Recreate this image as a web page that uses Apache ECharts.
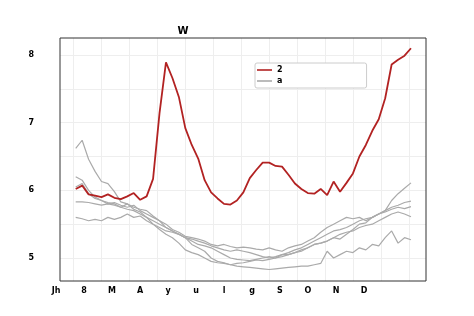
<!DOCTYPE html>
<html><head><meta charset="utf-8">
<script src="https://cdn.jsdelivr.net/npm/echarts@6/dist/echarts.min.js"></script>
<style>html,body{margin:0;padding:0;background:#fff}#c{width:474px;height:316px}</style>
</head><body><div id="c"></div>
<script>
const chartTitle = 'W';
const monthLabels = ['Jh','8','M','A','y','u','l','g','S','O','N','D'];
const yTickValues = [5, 6, 7, 8];
const redName = '2';
const grayName = 'a';
const weeks = [0,1,2,3,4,5,6,7,8,9,10,11,12,13,14,15,16,17,18,19,20,21,22,23,24,25,26,27,28,29,30,31,32,33,34,35,36,37,38,39,40,41,42,43,44,45,46,47,48,49,50,51,52];
const red = [6.02,6.07,5.94,5.92,5.90,5.94,5.89,5.87,5.91,5.96,5.86,5.91,6.17,7.14,7.89,7.66,7.38,6.92,6.67,6.47,6.15,5.97,5.88,5.80,5.79,5.85,5.97,6.18,6.30,6.41,6.41,6.36,6.35,6.23,6.10,6.02,5.96,5.95,6.02,5.93,6.13,5.98,6.11,6.25,6.50,6.67,6.88,7.05,7.36,7.86,7.93,7.99,8.10];
const grayA = [6.62,6.74,6.46,6.28,6.13,6.10,5.98,5.83,5.80,5.72,5.68,5.60,5.50,5.42,5.35,5.30,5.22,5.12,5.08,5.05,5.00,4.95,4.93,4.92,4.90,4.92,4.93,4.95,4.97,4.96,4.98,5.00,5.02,5.05,5.08,5.12,5.15,5.20,5.22,5.25,5.30,5.28,5.35,5.42,5.50,5.52,5.60,5.65,5.70,5.85,5.95,6.03,6.11];
const grayB = [6.20,6.15,6.00,5.90,5.85,5.82,5.80,5.75,5.72,5.70,5.65,5.60,5.55,5.50,5.45,5.40,5.35,5.30,5.28,5.25,5.22,5.18,5.15,5.12,5.10,5.12,5.10,5.08,5.05,5.02,5.00,5.02,5.05,5.08,5.12,5.15,5.20,5.25,5.30,5.35,5.40,5.42,5.45,5.50,5.55,5.58,5.60,5.65,5.70,5.75,5.78,5.82,5.84];
const grayC = [6.05,6.10,5.95,5.88,5.85,5.80,5.82,5.78,5.75,5.78,5.70,5.65,5.60,5.55,5.50,5.42,5.38,5.32,5.30,5.28,5.25,5.20,5.18,5.20,5.17,5.15,5.16,5.15,5.13,5.12,5.15,5.12,5.10,5.15,5.18,5.20,5.25,5.30,5.38,5.45,5.50,5.55,5.60,5.58,5.60,5.55,5.60,5.65,5.68,5.72,5.75,5.73,5.76];
const grayD = [5.83,5.83,5.82,5.80,5.78,5.80,5.78,5.75,5.80,5.75,5.72,5.70,5.62,5.55,5.45,5.40,5.35,5.30,5.25,5.20,5.18,5.15,5.10,5.05,5.00,4.98,4.97,4.96,4.98,5.00,5.02,5.00,5.05,5.05,5.08,5.10,5.15,5.20,5.22,5.25,5.30,5.35,5.38,5.40,5.45,5.48,5.50,5.55,5.60,5.65,5.68,5.65,5.61];
const grayE = [5.60,5.58,5.55,5.57,5.55,5.60,5.57,5.60,5.65,5.60,5.62,5.55,5.50,5.45,5.40,5.38,5.35,5.30,5.20,5.15,5.10,5.00,4.95,4.93,4.90,4.88,4.87,4.86,4.85,4.84,4.83,4.84,4.85,4.86,4.87,4.88,4.88,4.90,4.92,5.10,5.00,5.05,5.10,5.08,5.15,5.12,5.20,5.18,5.30,5.40,5.22,5.30,5.27];
const grays = [grayA, grayB, grayC, grayD, grayE];

const pair = arr => weeks.map((w, i) => [w, arr[i]]);
const fontFam = 'DejaVu Sans';
const series = grays.map(g => ({
  name: grayName, type: 'line', xAxisIndex: 0, yAxisIndex: 0,
  data: pair(g), symbol: 'none', showSymbol: false, z: 3,
  lineStyle: { color: '#aaaaaa', width: 1.2 }, itemStyle: { color: '#aaaaaa' }
}));
series.push({
  name: redName, type: 'line', xAxisIndex: 0, yAxisIndex: 0,
  data: pair(red), symbol: 'none', showSymbol: false, z: 5,
  lineStyle: { color: '#b22222', width: 1.8 }, itemStyle: { color: '#b22222' }
});

const chart = echarts.init(document.getElementById('c'), null, { renderer: 'canvas' });
chart.setOption({
  animation: false,
  backgroundColor: '#fff',
  title: { text: chartTitle, left: 178, top: 21, textAlign: 'center',
    textStyle: { fontFamily: fontFam, fontSize: 10, fontWeight: 'bold', color: '#000' } },
  legend: {
    data: [redName, grayName], orient: 'vertical', left: 255, top: 63,
    icon: 'rect', itemWidth: 15, itemHeight: 1.6, itemGap: 1, padding: [2, 84, 2, 2],
    borderColor: '#cccccc', borderWidth: 1, borderRadius: 2, backgroundColor: '#fff',
    textStyle: { fontFamily: fontFam, fontSize: 8, fontWeight: 'bold', color: '#000', lineHeight: 10 }
  },
  grid: [
    { left: 60, top: 38, width: 366, height: 243, show: true, borderColor: '#333', borderWidth: 1, backgroundColor: 'transparent', z: 4 },
    { left: 73, top: 38, width: 336, height: 243 },
    { left: 60, top: 55, width: 366, height: 203 }
  ],
  xAxis: [
    { gridIndex: 0, type: 'value', min: -2.435, max: 54.33, show: false },
    { gridIndex: 1, type: 'value', min: 0, max: 12, interval: 1,
      axisLine: { show: false }, axisTick: { show: false },
      splitLine: { show: true, lineStyle: { color: '#eeeeee', width: 1 } },
      axisLabel: { formatter: v => monthLabels[v] || '', margin: 6, padding: [0, 34, 0, 0],
        fontFamily: fontFam, fontSize: 8, fontWeight: 'bold', color: '#000' } },
    { gridIndex: 2, type: 'value', min: 0, max: 1, show: false }
  ],
  yAxis: [
    { gridIndex: 0, type: 'value', min: 4.66, max: 8.251, show: false },
    { gridIndex: 1, type: 'value', min: 0, max: 1, show: false },
    { gridIndex: 2, type: 'value', min: 5, max: 8, interval: 0.5,
      axisLine: { show: false }, axisTick: { show: false },
      splitLine: { show: true, lineStyle: { color: '#eeeeee', width: 1 } },
      axisLabel: { formatter: v => yTickValues.includes(v) ? String(v) : '', margin: 26,
        fontFamily: fontFam, fontSize: 8, fontWeight: 'bold', color: '#000' } }
  ],
  series: series
});
</script>
</body></html>
